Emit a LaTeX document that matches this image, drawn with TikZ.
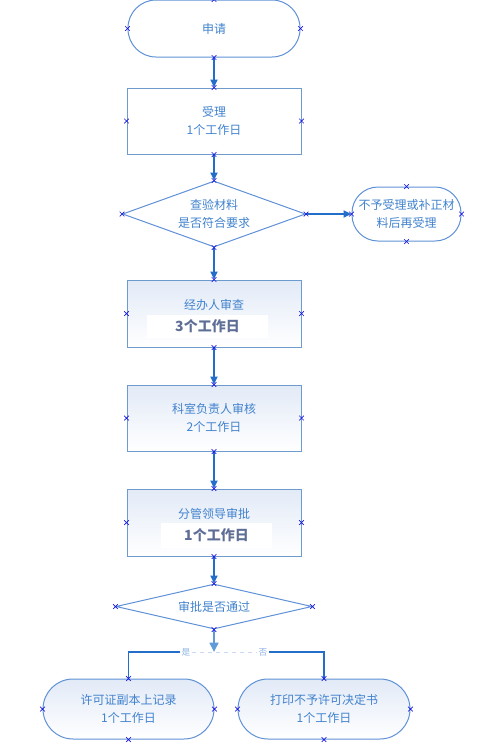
\documentclass[tikz,border=0pt]{standalone}
\usepackage{fontspec}
\newfontfamily\cjk{Noto Sans CJK SC}
\usetikzlibrary{shapes.geometric,shapes.misc,arrows.meta}
\definecolor{FlowLine}{RGB}{95,145,215}
\definecolor{FlowBox}{RGB}{110,155,205}
\definecolor{FlowText}{RGB}{65,130,205}
\definecolor{FlowDays}{RGB}{95,110,150}
\definecolor{FlowArrow}{RGB}{35,110,200}
\definecolor{FlowArrowLight}{RGB}{95,155,215}
\definecolor{FlowShade}{RGB}{226,234,247}
\definecolor{FlowPoint}{RGB}{25,25,225}
\newdimen\pxlen \pxlen=0.75pt

\begin{document}
\begin{tikzpicture}[x=1\pxlen,y=-1\pxlen,font=\cjk\fontsize{9}{13}\selectfont,text=FlowText,
  term/.style n args={3}{draw=FlowLine,line width=1\pxlen,rectangle,minimum width=#1\pxlen,minimum height=#2\pxlen,rounded corners=#3\pxlen,align=center,inner sep=0pt},
  stepbox/.style n args={2}{draw=FlowBox,line width=1\pxlen,rectangle,minimum width=#1\pxlen,minimum height=#2\pxlen,align=center,inner sep=0pt},
  shade/.style={top color=FlowShade,bottom color=white},
  test/.style n args={3}{draw=FlowLine,line width=1\pxlen,diamond,minimum width=#1\pxlen,minimum height=#2\pxlen,aspect=#3,align=center,inner sep=0pt},
  daybox/.style n args={2}{fill=white,minimum width=#1\pxlen,minimum height=#2\pxlen,inner sep=0pt,text=FlowDays,font=\cjk\bfseries\fontsize{10.5}{12}\selectfont},
  flow/.style={FlowArrow,line width=2\pxlen,-{Triangle[length=6pt,width=5.2pt]}},
  branch/.style={FlowArrow,line width=1.2\pxlen},
  faint/.style={FlowLine!35,line width=1\pxlen,dashed},
  tag/.style={font=\cjk\fontsize{6.5}{7}\selectfont,text=FlowLine!70,inner sep=1\pxlen},
  cpt/.style={cross out,draw=FlowPoint,minimum size=4\pxlen,inner sep=0pt,line width=0.7\pxlen}]
\useasboundingbox (0,0) rectangle (498,754);
% main column
\node[term={172}{57}{28}] (apply) at (214,28.5) {申请};
\node[stepbox={174}{66}] (accept) at (214,121) {受理\\1个工作日};
\node[test={183}{66}{2.77}] (chk) at (214,214) {查验材料\\是否符合要求};
\node[term={109}{54}{26}] (reject) at (406.5,214) {不予受理或补正材\\料后再受理};
\node[stepbox={174}{67},shade] (rev1) at (214,313.5) {};
\node (rev1title) at (214,305) {经办人审查};
\node[daybox={121}{23}] (rev1days) at (207.5,326.5) {3个工作日};
\node[stepbox={174}{66},shade] (rev2) at (214,418) {科室负责人审核\\2个工作日};
\node[stepbox={174}{67},shade] (appr) at (214,522.5) {};
\node (apprtitle) at (214,514) {分管领导审批};
\node[daybox={111}{25}] (apprdays) at (216.5,535.5) {1个工作日};
\node[test={196}{45}{4.36}] (pass) at (214,606.5) {审批是否通过};
% outcomes
\coordinate (fork) at (214,652);
\node[tag] (yes) at (186,652) {是};
\node[tag] (no) at (263,652) {否};
\node[term={171}{60}{30},shade] (permit) at (128.5,709) {许可证副本上记录\\1个工作日};
\node[term={172}{60}{30},shade] (refuse) at (324,709) {打印不予许可决定书\\1个工作日};
% connectors
\draw[flow] (apply.south) -- (accept.north);
\draw[flow] (accept.south) -- (chk.north);
\draw[flow] (chk.east) -- (reject.west);
\draw[flow] (chk.south) -- (rev1.north);
\draw[flow] (rev1.south) -- (rev2.north);
\draw[flow] (rev2.south) -- (appr.north);
\draw[flow] (appr.south) -- (pass.north);
\draw[faint] (yes) -- (no);
\draw[flow,FlowArrowLight,line width=2.4\pxlen,-{Triangle[length=7pt,width=6.5pt]}] (pass.south) -- (fork);
\draw[branch] (yes.west) -| (permit.north);
\draw[branch] (no.east) -| (refuse.north);
% connection points
\foreach \n in {apply,accept,chk,reject,rev1,rev2,appr,pass,permit,refuse}
  \foreach \a in {north,south,east,west}
    \node[cpt] at (\n.\a) {};
\end{tikzpicture}
\end{document}
